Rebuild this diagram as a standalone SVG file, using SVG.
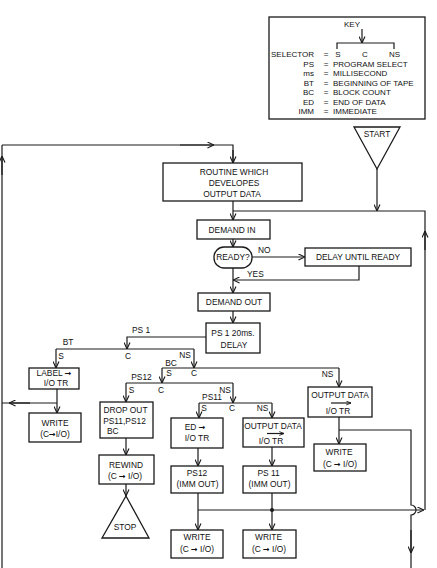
<svg xmlns="http://www.w3.org/2000/svg" width="437" height="568" viewBox="0 0 437 568">
<style>
.box{fill:#fff;stroke:#1a1a1a;stroke-width:1.3}
.ln{fill:none;stroke:#1a1a1a;stroke-width:1.2}
.a{marker-end:url(#ah)}
.as{marker-end:url(#ahs)}
text{font-family:"Liberation Sans",Arial,sans-serif;font-size:8.4px;fill:#111}
#key text{font-size:8px}
.m{text-anchor:middle}
.r{text-anchor:end}
.ar{font-family:"DejaVu Sans",sans-serif;font-weight:bold;font-size:8px}
</style>
<defs>
<marker id="ah" viewBox="0 0 8 8" refX="7.5" refY="4" markerWidth="7" markerHeight="7" markerUnits="userSpaceOnUse" orient="auto">
<path d="M0,0.6 L7.5,4 L0,7.4" fill="none" stroke="#1a1a1a" stroke-width="1.3"/>
</marker>
<marker id="ahs" viewBox="0 0 8 8" refX="7.5" refY="4" markerWidth="5" markerHeight="5" markerUnits="userSpaceOnUse" orient="auto">
<path d="M0,1 L7.5,4 L0,7" fill="none" stroke="#1a1a1a" stroke-width="1.4"/>
</marker>
</defs>
<rect width="437" height="568" fill="#fff"/>

<g id="connectors">
<path class="ln" d="M2,568 V145"/>
<path class="ln a" d="M2,175 V156"/>
<path class="ln" d="M2,145 H233 V163"/>
<path class="ln a" d="M180,145 H214"/>
<path class="ln a" d="M233,150 V163"/>
<path class="ln a" d="M233,201 V220"/>
<path class="ln a" d="M377,169 V211"/>
<path class="ln" d="M233,211 H425 V510"/>
<path class="ln a" d="M425,250 V231"/>
<path class="ln a" d="M233,239 V247"/>
<path class="ln a" d="M252,257 H305"/>
<path class="ln a" d="M359,266 V280 H233"/>
<path class="ln a" d="M233,268 V293"/>
<path class="ln a" d="M233,311 V323"/>
<path class="ln a" d="M206,337 H127 V349"/>
<path class="ln" d="M56,349 H194"/>
<path class="ln a" d="M56,349 V368"/>
<path class="ln a" d="M194,349 V368"/>
<path class="ln" d="M162,368 H339"/>
<path class="ln a" d="M162,368 V383"/>
<path class="ln a" d="M339,368 V387"/>
<path class="ln" d="M126,383 H233"/>
<path class="ln a" d="M126,383 V402"/>
<path class="ln a" d="M233,383 V403"/>
<path class="ln" d="M199,403 H272"/>
<path class="ln a" d="M199,403 V418"/>
<path class="ln a" d="M272,403 V418"/>
<path class="ln a" d="M57,389 V413"/>
<path class="ln" d="M57,403 H2"/>
<path class="ln a" d="M30,403 H9"/>
<path class="ln a" d="M126,438 V455"/>
<path class="ln a" d="M126,484 V496"/>
<path class="ln a" d="M198,448 V466"/>
<path class="ln a" d="M198,493 V530"/>
<path class="ln a" d="M198,510 H424"/>
<path class="ln a" d="M272,447 V466"/>
<path class="ln a" d="M272,493 V530"/>
<circle cx="272" cy="510" r="2" fill="#1a1a1a"/>
<path class="ln a" d="M339,417 V444"/>
<path class="ln" d="M339,430 H411 V505 A5,5 0 0 1 411,515 V568"/>
<path class="ln a" d="M411,530 V553"/>
</g>

<g id="key">
<rect class="box" x="269" y="17" width="156" height="102"/>
<text x="352" y="27" class="m">KEY</text>
<path class="ln a" d="M362,29 V43"/>
<path class="ln" d="M337,49 V43 H394 V49"/>
<text x="314" y="57" class="r">SELECTOR</text>
<text x="326" y="57" class="m">=</text>
<text x="338" y="57" class="m">S</text>
<text x="365" y="57" class="m">C</text>
<text x="394.5" y="57" class="m">NS</text>
<text x="314" y="66.5" class="r">PS</text><text x="326" y="66.5" class="m">=</text><text x="333" y="66.5">PROGRAM SELECT</text>
<text x="314" y="76" class="r">ms</text><text x="326" y="76" class="m">=</text><text x="333" y="76">MILLISECOND</text>
<text x="314" y="85.5" class="r">BT</text><text x="326" y="85.5" class="m">=</text><text x="333" y="85.5">BEGINNING OF TAPE</text>
<text x="314" y="95" class="r">BC</text><text x="326" y="95" class="m">=</text><text x="333" y="95">BLOCK COUNT</text>
<text x="314" y="104.5" class="r">ED</text><text x="326" y="104.5" class="m">=</text><text x="333" y="104.5">END OF DATA</text>
<text x="314" y="114" class="r">IMM</text><text x="326" y="114" class="m">=</text><text x="333" y="114">IMMEDIATE</text>
</g>

<g id="start">
<polygon class="box" points="354,127 400,127 377,169"/>
<text x="377" y="137" class="m">START</text>
</g>

<g id="routine">
<rect class="box" x="163" y="163" width="139" height="38"/>
<text x="234" y="175" class="m">ROUTINE WHICH</text>
<text x="234" y="186" class="m">DEVELOPES</text>
<text x="232" y="197" class="m">OUTPUT DATA</text>
</g>

<g id="demand-in">
<rect class="box" x="197" y="220" width="73" height="19"/>
<text x="232" y="232.5" class="m">DEMAND IN</text>
</g>

<g id="ready">
<rect class="box" x="214" y="247" width="38" height="21" rx="10" ry="10"/>
<text x="233" y="260" class="m">READY?</text>
</g>
<text x="258" y="253">NO</text>
<text x="247" y="277">YES</text>

<g id="delay-until-ready">
<rect class="box" x="305" y="248" width="106" height="18"/>
<text x="358" y="260" class="m">DELAY UNTIL READY</text>
</g>

<g id="demand-out">
<rect class="box" x="198" y="293" width="72" height="18"/>
<text x="234" y="305" class="m">DEMAND OUT</text>
</g>

<g id="ps1-delay">
<rect class="box" x="206" y="323" width="54" height="30"/>
<text x="233" y="336" class="m">PS 1  20ms.</text>
<text x="234" y="348" class="m">DELAY</text>
</g>

<g id="selector-labels">
<text x="141" y="333" class="m">PS 1</text>
<text x="68" y="345" class="m">BT</text>
<text x="61" y="359" class="m">S</text>
<text x="128" y="359" class="m">C</text>
<text x="185" y="358" class="m">NS</text>
<text x="171" y="365.5" class="m">BC</text>
<text x="169" y="376" class="m">S</text>
<text x="194" y="376" class="m">C</text>
<text x="327.5" y="377" class="m">NS</text>
<text x="141.5" y="380" class="m">PS12</text>
<text x="131.5" y="393" class="m">S</text>
<text x="161" y="393" class="m">C</text>
<text x="225" y="393" class="m">NS</text>
<text x="212" y="400" class="m">PS11</text>
<text x="204" y="411" class="m">S</text>
<text x="232" y="411" class="m">C</text>
<text x="262.5" y="411" class="m">NS</text>
</g>

<g id="label-io">
<rect class="box" x="29" y="368" width="50" height="21"/>
<text x="54" y="376" class="m">LABEL <tspan class="ar">→</tspan></text>
<text x="56" y="386" class="m">I/O TR</text>
</g>

<g id="write-1">
<rect class="box" x="29" y="413" width="52" height="29"/>
<text x="55" y="426" class="m">WRITE</text>
<text x="55" y="437" class="m">(C<tspan class="ar">→</tspan>I/O)</text>
</g>

<g id="drop-out">
<rect class="box" x="100" y="402" width="53" height="36"/>
<text x="125.5" y="413" class="m">DROP OUT</text>
<text x="124.5" y="424" class="m">PS11,PS12</text>
<text x="107" y="434">BC</text>
</g>

<g id="rewind">
<rect class="box" x="99" y="455" width="55" height="29"/>
<text x="126" y="468" class="m">REWIND</text>
<text x="125" y="479" class="m">(C <tspan class="ar">→</tspan> I/O)</text>
</g>

<g id="stop">
<polygon class="box" points="126,496 149,538 102,538"/>
<text x="125" y="530" class="m">STOP</text>
</g>

<g id="ed-io">
<rect class="box" x="171" y="418" width="52" height="30"/>
<text x="195" y="430" class="m">ED <tspan class="ar">→</tspan></text>
<text x="197" y="441" class="m">I/O TR</text>
</g>

<g id="ps12-imm">
<rect class="box" x="171" y="466" width="52" height="27"/>
<text x="197" y="476" class="m">PS12</text>
<text x="197.5" y="487" class="m">(IMM OUT)</text>
</g>

<g id="write-2">
<rect class="box" x="171" y="530" width="52" height="28"/>
<text x="197" y="540" class="m">WRITE</text>
<text x="197" y="552" class="m">(C <tspan class="ar">→</tspan> I/O)</text>
</g>

<g id="output-data-2">
<rect class="box" x="243" y="418" width="61" height="29"/>
<text x="273" y="428.5" class="m">OUTPUT DATA</text>
<path class="ln as" d="M267,433.5 H284"/>
<text x="271" y="444" class="m">I/O TR</text>
</g>

<g id="ps11-imm">
<rect class="box" x="243" y="466" width="53" height="27"/>
<text x="268.5" y="476" class="m">PS 11</text>
<text x="269.5" y="487" class="m">(IMM OUT)</text>
</g>

<g id="write-3">
<rect class="box" x="243" y="530" width="53" height="28"/>
<text x="268.5" y="540" class="m">WRITE</text>
<text x="269" y="552" class="m">(C <tspan class="ar">→</tspan> I/O)</text>
</g>

<g id="output-data-1">
<rect class="box" x="308" y="387" width="64" height="30"/>
<text x="340" y="397.5" class="m">OUTPUT DATA</text>
<path class="ln as" d="M331,403 H351"/>
<text x="338" y="413.5" class="m">I/O TR</text>
</g>

<g id="write-4">
<rect class="box" x="314" y="444" width="52" height="27"/>
<text x="339" y="455" class="m">WRITE</text>
<text x="340" y="467" class="m">(C <tspan class="ar">→</tspan> I/O)</text>
</g>
</svg>
